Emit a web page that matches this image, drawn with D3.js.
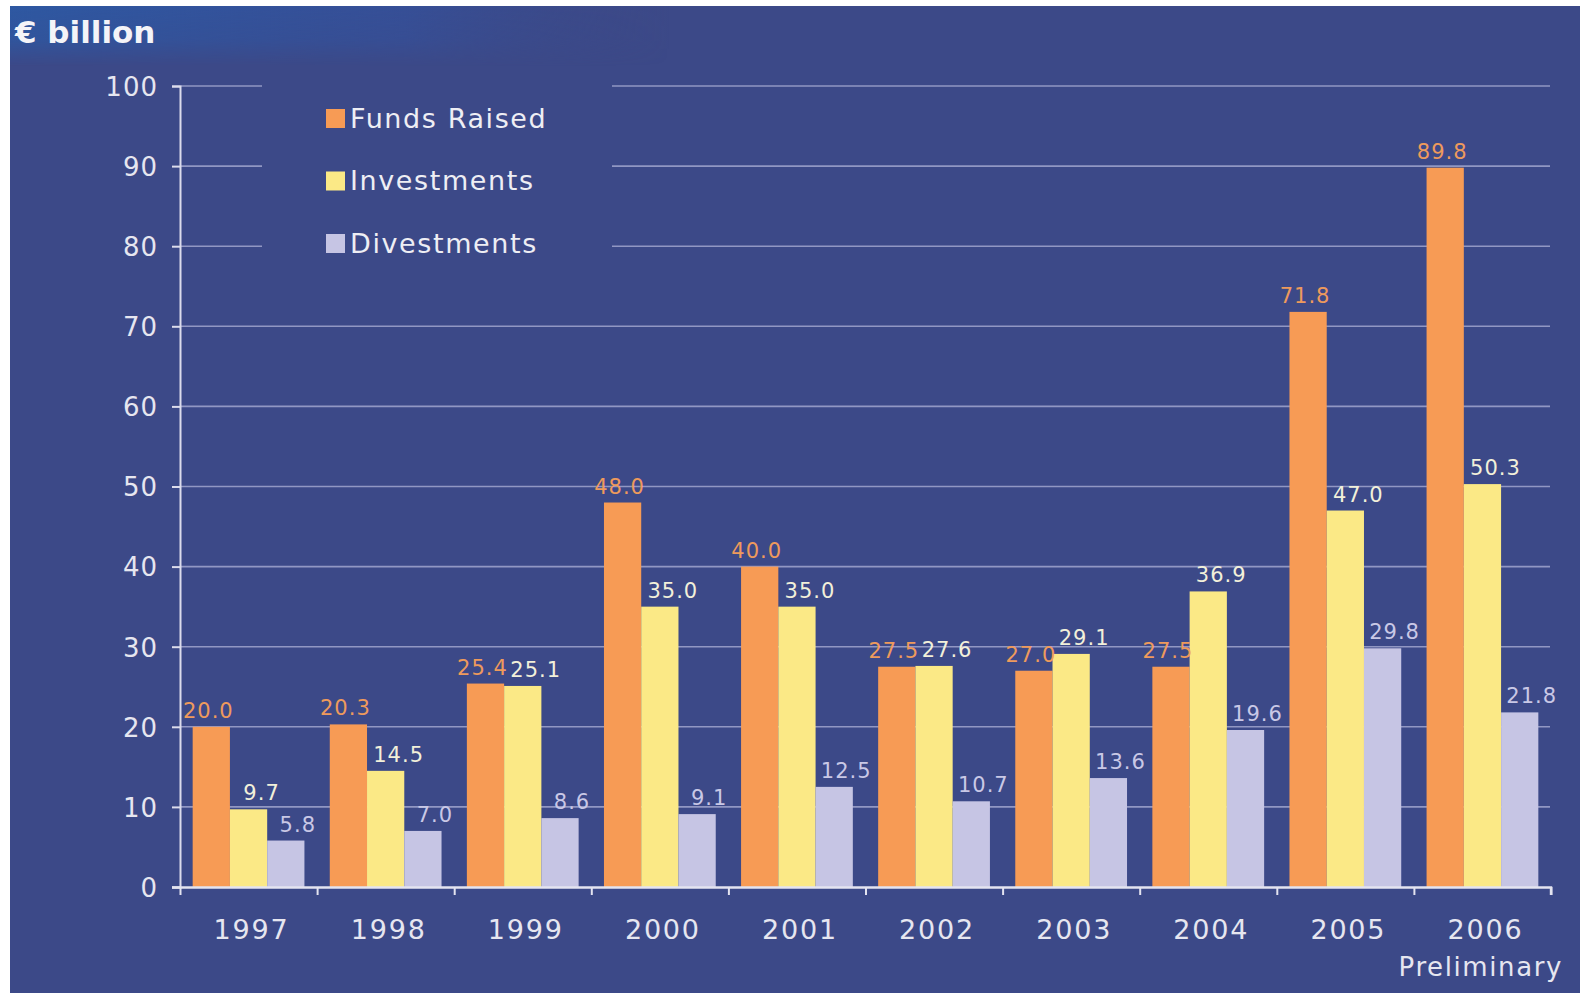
<!DOCTYPE html>
<html>
<head>
<meta charset="utf-8">
<script src="https://cdn.jsdelivr.net/npm/d3@7"></script>
<style>
  html, body { margin: 0; padding: 0; background: #ffffff; }
  svg { display: block; }
  text { font-family: "DejaVu Sans", Verdana, sans-serif; }
</style>
</head>
<body>
<svg id="chart" width="1580" height="993"></svg>
<script>
// Private equity activity in Europe, € billion
const years = ["1997", "1998", "1999", "2000", "2001", "2002", "2003", "2004", "2005", "2006"];
const seriesNames = ["Funds Raised", "Investments", "Divestments"];
const fundsRaised = [20.0, 20.3, 25.4, 48.0, 40.0, 27.5, 27.0, 27.5, 71.8, 89.8];
const investments = [9.7, 14.5, 25.1, 35.0, 35.0, 27.6, 29.1, 36.9, 47.0, 50.3];
const divestments = [5.8, 7.0, 8.6, 9.1, 12.5, 10.7, 13.6, 19.6, 29.8, 21.8];
const yTicks = [0, 10, 20, 30, 40, 50, 60, 70, 80, 90, 100];
const unitLabel = "€ billion";
const footnote = "Preliminary";

const seriesValues = [fundsRaised, investments, divestments];
const barColors = ["#f79b55", "#fbe986", "#c6c5e4"];
const labelColors = ["#ee9a5c", "#f2f0da", "#c9c8e6"];
const labelDx = [-3, 13, 12];

const svg = d3.select("#chart");
const bg = "#3c4988";

// panel background with a brighter band behind the unit caption
const defs = svg.append("defs");
const g1 = defs.append("linearGradient").attr("id", "band").attr("x1", 0).attr("x2", 1).attr("y1", 0).attr("y2", 0);
g1.append("stop").attr("offset", 0).attr("stop-color", "#2d59a3").attr("stop-opacity", 0.95);
g1.append("stop").attr("offset", 0.6).attr("stop-color", "#3253a0").attr("stop-opacity", 0.6);
g1.append("stop").attr("offset", 1).attr("stop-color", bg).attr("stop-opacity", 0);
const g2 = defs.append("linearGradient").attr("id", "fade").attr("x1", 0).attr("x2", 0).attr("y1", 0).attr("y2", 1);
g2.append("stop").attr("offset", 0).attr("stop-color", "#fff").attr("stop-opacity", 1);
g2.append("stop").attr("offset", 0.55).attr("stop-color", "#fff").attr("stop-opacity", 0.8);
g2.append("stop").attr("offset", 1).attr("stop-color", "#fff").attr("stop-opacity", 0);
defs.append("mask").attr("id", "bandMask")
  .append("rect").attr("x", 10).attr("y", 6).attr("width", 660).attr("height", 60).attr("fill", "url(#fade)");

svg.append("rect").attr("x", 10).attr("y", 6).attr("width", 1570).attr("height", 987).attr("fill", bg);
svg.append("rect").attr("x", 10).attr("y", 6).attr("width", 660).attr("height", 60)
  .attr("fill", "url(#band)").attr("mask", "url(#bandMask)");

// scales
const y = d3.scaleLinear().domain([0, 100]).range([887, 86]);
const x0 = d3.scaleBand().domain(years).range([180, 1551]).padding(0);
const x1 = d3.scaleBand().domain(seriesNames).range([0, x0.bandwidth()]).paddingInner(0).paddingOuter(0.34);

// gridlines (interrupted behind the legend at the top)
const gridColor = "#9197c3";
const gridSegs = [];
yTicks.filter(t => t > 0).forEach(t => {
  if (t >= 80) {
    gridSegs.push({ t, xa: 180, xb: 262 });
    gridSegs.push({ t, xa: 612, xb: 1550 });
  } else {
    gridSegs.push({ t, xa: 180, xb: 1550 });
  }
});
svg.append("g").selectAll("line").data(gridSegs).join("line")
  .attr("x1", d => d.xa).attr("x2", d => d.xb)
  .attr("y1", d => y(d.t)).attr("y2", d => y(d.t))
  .attr("stroke", gridColor).attr("stroke-width", 1.6);

// bars
const rows = years.map((yr, i) => ({ year: yr, vals: seriesNames.map((s, k) => ({ s, k, v: seriesValues[k][i] })) }));
const groups = svg.append("g").selectAll("g").data(rows).join("g")
  .attr("transform", d => `translate(${x0(d.year)},0)`);
groups.selectAll("rect").data(d => d.vals).join("rect")
  .attr("x", d => x1(d.s)).attr("width", x1.bandwidth())
  .attr("y", d => y(d.v)).attr("height", d => y(0) - y(d.v))
  .attr("fill", d => barColors[d.k]);

// value labels
groups.selectAll("text").data(d => d.vals).join("text")
  .attr("x", d => x1(d.s) + x1.bandwidth() / 2 + labelDx[d.k])
  .attr("y", d => y(d.v) - 9)
  .attr("text-anchor", "middle")
  .attr("font-size", 21)
  .attr("letter-spacing", 1)
  .attr("fill", d => labelColors[d.k])
  .text(d => d3.format(".1f")(d.v));

// y axis
const yAxis = svg.append("g").attr("transform", "translate(180,0)")
  .call(d3.axisLeft(y).tickValues(yTicks).tickSize(8).tickPadding(14).tickFormat(d3.format("d")));
yAxis.select(".domain").attr("stroke", "#dcdcec").attr("stroke-width", 2);
yAxis.selectAll(".tick line").attr("stroke", "#dcdcec").attr("stroke-width", 2);
yAxis.selectAll(".tick text").attr("font-size", 26).attr("fill", "#e6e6f0")
  .attr("letter-spacing", 1)
  .attr("font-family", "DejaVu Sans, sans-serif").attr("dy", "0.36em");

// x axis: baseline with ticks at the group boundaries
const boundaries = [0].concat(years.map((d, i) => i + 1));
const xb = d3.scaleLinear().domain([0, years.length]).range([180, 1551]);
const xAxis = svg.append("g").attr("transform", `translate(0,${y(0)})`)
  .call(d3.axisBottom(xb).tickValues(boundaries).tickSize(8).tickFormat(""));
xAxis.select(".domain").attr("stroke", "#e4e4f0").attr("stroke-width", 2.4)
  .attr("d", `M172,0.5H1551V8`);
xAxis.selectAll(".tick line").attr("stroke", "#e4e4f0").attr("stroke-width", 2);

// year labels
const xLabels = svg.append("g").attr("transform", `translate(0,${y(0)})`)
  .call(d3.axisBottom(x0).tickSize(0).tickPadding(0));
xLabels.select(".domain").remove();
xLabels.selectAll(".tick text").attr("font-size", 27).attr("fill", "#e6e6f0")
  .attr("letter-spacing", 1.8)
  .attr("font-family", "DejaVu Sans, sans-serif").attr("dy", 0).attr("y", 52).attr("dx", 3);

svg.append("text").attr("x", 1563).attr("y", 976).attr("text-anchor", "end")
  .attr("font-size", 26).attr("letter-spacing", 1.6).attr("fill", "#e6e6f0").text(footnote);

// unit caption
svg.append("text").attr("x", 15).attr("y", 43)
  .attr("font-size", 31).attr("font-weight", "bold").attr("fill", "#f4f4f8").text(unitLabel);

// legend
const legend = svg.append("g").selectAll("g").data(seriesNames).join("g")
  .attr("transform", (d, i) => `translate(326,${118 + i * 62.5})`);
legend.append("rect").attr("x", 0).attr("y", -9).attr("width", 19).attr("height", 19)
  .attr("fill", (d, i) => barColors[i]);
legend.append("text").attr("x", 24).attr("y", 0).attr("dy", "0.36em")
  .attr("font-size", 27).attr("letter-spacing", 1.6).attr("fill", "#eeeef4").text(d => d);
</script>
</body>
</html>
